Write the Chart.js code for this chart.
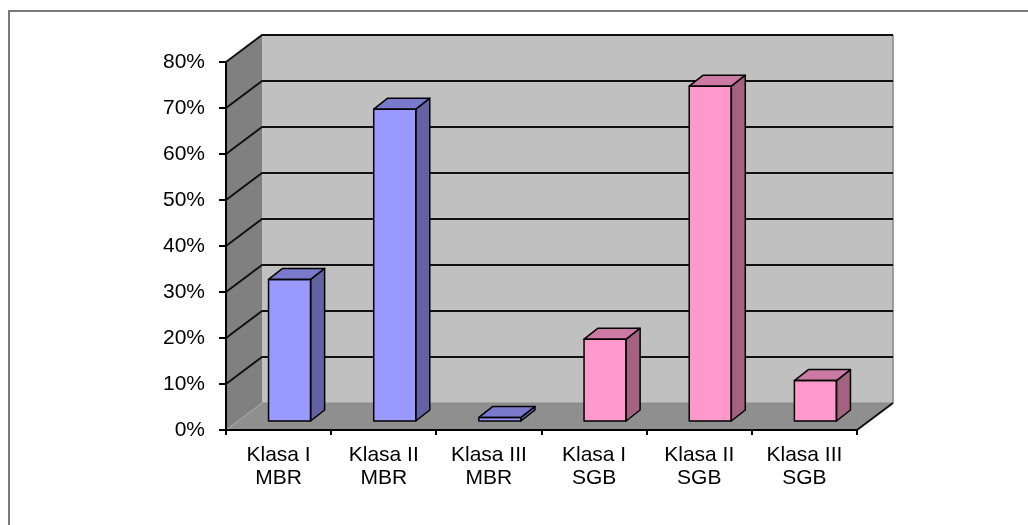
<!DOCTYPE html>
<html>
<head>
<meta charset="utf-8">
<script src="https://cdn.jsdelivr.net/npm/chart.js@4.4.1/dist/chart.umd.min.js"></script>
<style>
  html, body { margin: 0; padding: 0; background: #fff; overflow: hidden; }
  canvas { display: block; }
</style>
</head>
<body>
<canvas id="c" width="1028" height="525"></canvas>
<script>
// Categories (two-line labels), group of each bar and its share in percent
const categories = [
  ['Klasa I', 'MBR'], ['Klasa II', 'MBR'], ['Klasa III', 'MBR'],
  ['Klasa I', 'SGB'], ['Klasa II', 'SGB'], ['Klasa III', 'SGB']
];
const groups = ['MBR', 'MBR', 'MBR', 'SGB', 'SGB', 'SGB'];
const shares = [31, 68, 1, 18, 73, 9];
const yMax = 80;
const yStep = 10;

// Face colours per group
const palette = {
  MBR: { front: '#9999FF', top: '#7A7ACC', side: '#6363A3' },
  SGB: { front: '#FF99CC', top: '#CC7AA3', side: '#A3627F' }
};

const FONT = { family: '"Liberation Sans", Arial, Helvetica, sans-serif', size: 21, lineHeight: 1.1 };

// Depth of the 3-D box (walls / floor) and of the columns inside it
const DEPTH = { dx: 36, dy: -27 };
const BAR_SHIFT = { dx: 11, dy: -8 };   // front face of the columns
const BAR_DEPTH = { dx: 14, dy: -11 };  // column thickness

function poly(ctx, pts, fill, stroke, lw) {
  ctx.beginPath();
  ctx.moveTo(pts[0][0], pts[0][1]);
  for (let i = 1; i < pts.length; i++) ctx.lineTo(pts[i][0], pts[i][1]);
  ctx.closePath();
  if (fill) { ctx.fillStyle = fill; ctx.fill(); }
  if (stroke) { ctx.strokeStyle = stroke; ctx.lineWidth = lw || 1; ctx.stroke(); }
}

function seg(ctx, pts, color, lw) {
  ctx.beginPath();
  ctx.moveTo(pts[0][0], pts[0][1]);
  for (let i = 1; i < pts.length; i++) ctx.lineTo(pts[i][0], pts[i][1]);
  ctx.strokeStyle = color; ctx.lineWidth = lw; ctx.stroke();
}

const box3d = {
  id: 'box3d',
  beforeDraw(chart) {
    const { ctx, chartArea: a, scales: { y } } = chart;
    const dx = DEPTH.dx, dy = DEPTH.dy;
    ctx.save();
    // outer frame
    seg(ctx, [[9, 525], [9, 11], [1028, 11]], '#7a7a7a', 2);

    const L = a.left, R = a.right;
    const T = y.getPixelForValue(yMax), B = y.getPixelForValue(0);
    // left wall, back wall, floor
    poly(ctx, [[L, T], [L + dx, T + dy], [L + dx, B + dy], [L, B]], '#808080');
    poly(ctx, [[L + dx, T + dy], [R + dx, T + dy], [R + dx, B + dy], [L + dx, B + dy]], '#C0C0C0');
    poly(ctx, [[L, B], [R, B], [R + dx, B + dy], [L + dx, B + dy]], '#8F8F8F');

    // edges of the floor and right side of the back wall
    seg(ctx, [[L, B], [L + dx, B + dy]], '#a8a8a8', 1);
    seg(ctx, [[L + dx, B + dy], [R + dx, B + dy]], '#8a8a8a', 1);
    seg(ctx, [[R + dx, T + dy], [R + dx, B + dy]], '#9c9c9c', 2);
    seg(ctx, [[R, B], [R + dx, B + dy]], '#111', 2);

    // gridlines wrapping left wall and back wall
    y.ticks.forEach(t => {
      if (t.value === 0) return;
      const py = Math.round(y.getPixelForValue(t.value));
      seg(ctx, [[L, py], [L + dx, py + dy], [R + dx, py + dy]], '#111', 2);
    });
    ctx.restore();
  },
  beforeDatasetsDraw(chart) {
    chart.ctx.save();
    chart.ctx.translate(BAR_SHIFT.dx, BAR_SHIFT.dy);
  },
  afterDatasetsDraw(chart) {
    const ctx = chart.ctx;
    const meta = chart.getDatasetMeta(0);
    const bx = BAR_DEPTH.dx, by = BAR_DEPTH.dy;
    meta.data.forEach((bar, i) => {
      const p = bar.getProps(['x', 'y', 'base', 'width'], true);
      const l = p.x - p.width / 2, r = p.x + p.width / 2;
      const top = Math.min(p.y, p.base), bot = Math.max(p.y, p.base);
      const col = palette[groups[i]];
      ctx.lineJoin = 'round';
      // right side
      poly(ctx, [[r, top], [r + bx, top + by], [r + bx, bot + by], [r, bot]], col.side, '#000', 1.5);
      // top face
      poly(ctx, [[l, top], [r, top], [r + bx, top + by], [l + bx, top + by]], col.top, '#000', 1.5);
      // front outline
      ctx.strokeStyle = '#000'; ctx.lineWidth = 1.5;
      ctx.strokeRect(l, top, r - l, bot - top);
    });
    ctx.restore();
  }
};

new Chart(document.getElementById('c'), {
  type: 'bar',
  data: {
    labels: categories,
    datasets: [{
      data: shares,
      backgroundColor: groups.map(g => palette[g].front),
      borderWidth: 0,
      barPercentage: 0.4,
      categoryPercentage: 1.0
    }]
  },
  options: {
    responsive: false,
    animation: false,
    events: [],
    layout: { padding: { left: 0, right: 171, top: 62, bottom: 25 } },
    plugins: { legend: { display: false }, tooltip: { enabled: false } },
    scales: {
      x: {
        offset: true,
        grid: { offset: true, drawOnChartArea: false, drawTicks: true, tickLength: 5, color: '#000', lineWidth: 2 },
        border: { display: true, color: '#000', width: 2 },
        ticks: { font: FONT, color: '#000', padding: 9, maxRotation: 0, autoSkip: false },
        afterFit(s) { s.height = 70; }
      },
      y: {
        min: 0,
        max: yMax,
        grid: { drawOnChartArea: false, drawTicks: true, tickLength: 7, color: '#000', lineWidth: 2 },
        border: { display: true, color: '#000', width: 2 },
        ticks: { stepSize: yStep, font: FONT, color: '#000', padding: 14, callback: v => v + '%' },
        afterFit(s) { s.width = 226; }
      }
    }
  },
  plugins: [box3d]
});
</script>
</body>
</html>
